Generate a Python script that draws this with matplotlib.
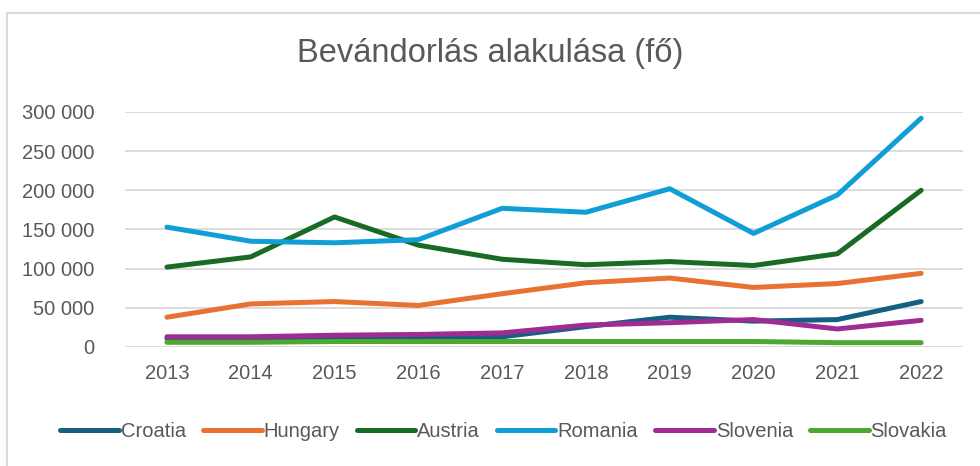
import numpy as np
import matplotlib
matplotlib.use("Agg")
import matplotlib.pyplot as plt
from matplotlib.ticker import FuncFormatter
from matplotlib.lines import Line2D

years = [2013, 2014, 2015, 2016, 2017, 2018, 2019, 2020, 2021, 2022]
croatia = [11000, 11000, 12000, 13000, 13000, 26000, 38000, 33000, 35000, 58000]
hungary = [38000, 55000, 58000, 53000, 68000, 82000, 88000, 76000, 81000, 94000]
austria = [102000, 115000, 166000, 130000, 112000, 105000, 109000, 104000, 119000, 200000]
romania = [153000, 135000, 133000, 137000, 177000, 172000, 202000, 145000, 194000, 292000]
slovenia = [13000, 13000, 15000, 16000, 18000, 28000, 31000, 35000, 23000, 34000]
slovakia = [6000, 6000, 7000, 7000, 7000, 7000, 7000, 7000, 5500, 5500]

names = ["Croatia", "Hungary", "Austria", "Romania", "Slovenia", "Slovakia"]
series = [croatia, hungary, austria, romania, slovenia, slovakia]
colors = ["#156082", "#E97132", "#196B24", "#0F9ED5", "#A02B93", "#4EA72E"]

txt = "#595959"
plt.rcParams['font.family'] = ["Liberation Sans", "DejaVu Sans"]

fig = plt.figure(figsize=(9.8, 4.66), dpi=100)
ax = fig.add_axes([0.1276, 0.2554, 0.8551, 0.5043])

x = np.arange(len(years))
for vals, c, n in zip(series, colors, names):
    ax.plot(x, vals, color=c, lw=3.6, solid_capstyle='round', solid_joinstyle='round', label=n)

ax.set_xlim(-0.5, len(years) - 0.5)
ax.set_ylim(0, 300000)
ax.set_yticks(np.arange(0, 300001, 50000))
ax.yaxis.set_major_formatter(FuncFormatter(lambda v, p: f"{int(v):,}".replace(",", " ")))
ax.set_xticks(x)
ax.set_xticklabels([str(y) for y in years])
ax.grid(axis='y', color="#D9D9D9", lw=1.3)
ax.set_axisbelow(True)
for s in ax.spines.values():
    s.set_visible(False)
ax.tick_params(length=0, colors=txt, labelsize=14.5)
ax.tick_params(axis='y', pad=22)
ax.tick_params(axis='x', pad=12)

fig.text(0.5, 0.885, "Bevándorlás alakulása (fő)", ha='center', va='center', fontsize=23.5, color=txt)

handles = [Line2D([], [], color=c, lw=3.6, solid_capstyle='round') for c in colors]
leg = fig.legend(handles, names, loc='center', bbox_to_anchor=(0.514, 0.073), ncol=6, frameon=False,
                 fontsize=14.5, handlelength=2.9, handletextpad=0.1, columnspacing=0.85, labelcolor=txt)

# chart frame
fig.add_artist(Line2D([7 / 980, 7 / 980], [0, 1 - 13 / 466], color="#D9D9D9", lw=1.5))
fig.add_artist(Line2D([7 / 980, 1], [1 - 13 / 466, 1 - 13 / 466], color="#D9D9D9", lw=1.5))

fig.savefig("out.png", dpi=100)
